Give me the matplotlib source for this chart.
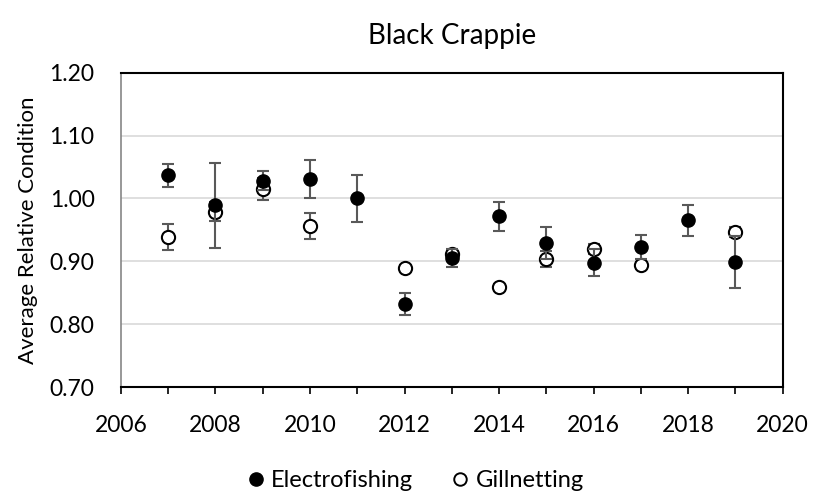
import matplotlib

matplotlib.use("Agg")
import matplotlib.pyplot as plt
from matplotlib.ticker import FormatStrFormatter, MultipleLocator

plt.rcParams["font.family"] = ["Lato", "DejaVu Sans"]

# electrofishing: mean relative condition and error
ef_years = [2007, 2008, 2009, 2010, 2011, 2012, 2013, 2014, 2015, 2016, 2017, 2018, 2019]
ef_mean = [1.037, 0.989, 1.028, 1.031, 1.000, 0.832, 0.905, 0.972, 0.929, 0.898, 0.923, 0.965, 0.899]
ef_err = [0.018, 0.068, 0.015, 0.031, 0.038, 0.017, 0.014, 0.023, 0.026, 0.021, 0.019, 0.024, 0.041]

# gillnetting (no 2011, 2018)
gn_years = [2007, 2008, 2009, 2010, 2012, 2013, 2014, 2015, 2016, 2017, 2019]
gn_mean = [0.939, 0.979, 1.015, 0.956, 0.889, 0.912, 0.859, 0.904, 0.920, 0.894, 0.947]
gn_err = [0.021, 0.015, 0.018, 0.021, 0.005, 0.006, 0.005, 0.013, 0.008, 0.005, 0.008]

fig = plt.figure(figsize=(8.17, 4.95), dpi=100)
ax = fig.add_axes([0.148, 0.218, 0.810, 0.635])

err_kw = dict(ecolor="#595959", elinewidth=1.5, capsize=4, capthick=1.5, linestyle="none")
ax.errorbar(gn_years, gn_mean, yerr=gn_err, marker="o", markersize=9.5,
            markerfacecolor="white", markeredgecolor="black", markeredgewidth=1.5,
            zorder=3, **err_kw)
ax.errorbar(ef_years, ef_mean, yerr=ef_err, marker="o", markersize=9.5,
            markerfacecolor="black", markeredgecolor="black",
            zorder=4, **err_kw)

ax.set_xlim(2006, 2020)
ax.set_ylim(0.70, 1.20)
ax.xaxis.set_major_locator(MultipleLocator(2))
ax.xaxis.set_minor_locator(MultipleLocator(1))
ax.yaxis.set_major_locator(MultipleLocator(0.1))
ax.yaxis.set_major_formatter(FormatStrFormatter("%.2f"))
ax.tick_params(axis="x", which="both", direction="out", length=5, width=1.2,
               color="black", labelsize=16.5, pad=15)
ax.tick_params(axis="y", length=0, labelsize=16.5, pad=19)
ax.grid(axis="y", color="#d9d9d9", linewidth=1.2)
ax.set_axisbelow(True)

ax.spines["left"].set_color("#868686")
ax.spines["left"].set_linewidth(1.2)
for side in ("top", "right", "bottom"):
    ax.spines[side].set_color("black")
    ax.spines[side].set_linewidth(1.5)

ax.set_ylabel("Average Relative Condition", fontsize=16, labelpad=8)
ax.set_title("Black Crappie", fontsize=20, pad=21)

h_ef = plt.Line2D([], [], marker="o", linestyle="none", markersize=9.5,
                  markerfacecolor="black", markeredgecolor="black")
h_gn = plt.Line2D([], [], marker="o", linestyle="none", markersize=9,
                  markerfacecolor="white", markeredgecolor="black", markeredgewidth=1.4)
fig.legend([h_ef, h_gn], ["Electrofishing", "Gillnetting"], loc="lower center",
           bbox_to_anchor=(0.505, -0.035), ncol=2, frameon=False, fontsize=17,
           handletextpad=0.05, columnspacing=1.4, handlelength=1.2)

fig.savefig("out.png", dpi=100)
